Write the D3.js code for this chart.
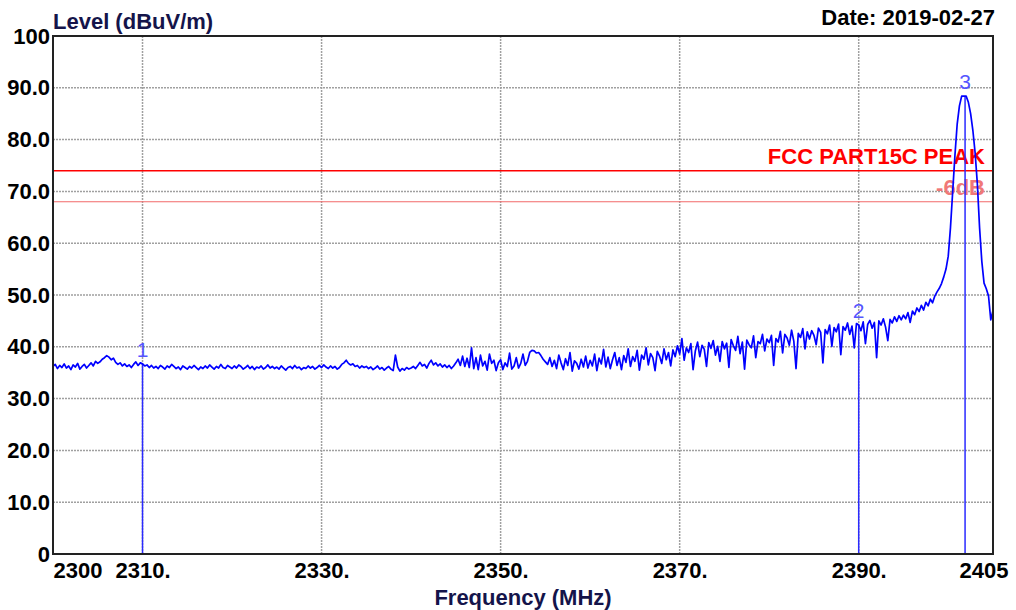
<!DOCTYPE html>
<html>
<head>
<meta charset="utf-8">
<script src="https://cdn.jsdelivr.net/npm/d3@7"></script>
<style>
    body { margin: 0; background: #fff; }
    svg text { font-family: "Liberation Sans", Arial, sans-serif; }
</style>
</head>
<body>
<div id="chart"></div>
<script>
// sweep: 2300 - 2405 MHz, 0.25 MHz per point
const freqStart = 2300;
const freqStep = 0.25;
const levels = [
    36.2, 36.6, 35.8, 36.4, 36.0, 36.7, 35.9, 36.3, 35.6, 36.5, 36.1, 36.8, 35.7, 36.2, 36.6, 35.9, 36.4, 36.9, 36.3, 37.2,
    36.8, 37.1, 37.6, 37.9, 38.3, 38.0, 37.5, 37.8, 37.0, 36.6, 36.9, 36.3, 36.7, 36.2, 36.5, 36.0, 36.6, 37.1, 36.4, 36.9,
    36.7, 36.3, 36.5, 36.0, 36.4, 35.9, 36.2, 35.8, 36.4, 36.1, 35.7, 36.3, 36.0, 36.6, 36.2, 35.8, 36.1, 35.6, 36.3, 36.0,
    35.7, 36.2, 35.9, 36.4, 36.0, 35.6, 36.1, 35.8, 36.3, 35.9, 36.5, 36.1, 35.7, 36.2, 35.9, 36.6, 36.0, 35.8, 36.4, 36.1,
    35.8, 36.3, 35.9, 36.5, 36.2, 35.7, 36.0, 36.4, 35.8, 36.2, 35.6, 36.1, 35.9, 36.3, 35.7, 36.0, 36.5, 35.9, 36.2, 35.8,
    36.1, 35.7, 36.3, 35.9, 35.5, 36.0, 36.2, 35.8, 36.4, 35.9, 36.1, 35.6, 36.0, 35.8, 36.3, 35.9, 36.2, 35.7, 36.0, 36.4,
    36.0, 36.5, 36.1, 35.8, 36.3, 35.9, 36.2, 35.7, 36.0, 36.6, 36.9, 37.4, 36.8, 36.5, 36.7, 36.2, 36.4, 35.9, 36.3, 36.0,
    36.2, 35.8, 36.1, 35.6, 35.9, 36.3, 35.7, 36.0, 35.5, 35.9, 36.2, 35.7, 35.4, 38.4, 36.1, 35.3, 35.8, 35.5, 36.0, 35.7,
    35.9, 36.2, 35.8, 36.4, 37.0, 36.3, 36.6, 35.9, 36.8, 37.4, 36.5, 36.9, 36.3, 36.7, 36.1, 36.5, 36.0, 36.4, 35.8, 36.3,
    36.9, 37.6, 36.4, 38.2, 36.2, 37.8, 36.0, 39.8, 35.8, 37.9, 35.6, 38.4, 36.3, 37.2, 35.5, 38.6, 36.8, 37.4, 35.4, 36.9,
    37.5, 35.6, 36.9, 36.2, 38.8, 35.7, 36.3, 37.9, 35.9, 36.8, 38.6, 36.4, 37.2, 38.9, 39.3, 39.2, 38.8, 38.9, 38.3, 37.6,
    37.1, 36.6, 37.9, 36.2, 37.4, 35.8, 38.4, 36.9, 35.6, 37.7, 36.4, 38.9, 35.3, 37.3, 36.8, 35.7, 37.6, 36.1, 38.2, 35.9,
    37.4, 36.3, 38.6, 35.4, 37.8, 36.7, 39.5, 36.1, 38.0, 35.8, 37.5, 38.9, 36.4, 37.9, 35.6, 38.3, 37.0, 39.6, 36.2, 38.1,
    37.2, 39.3, 35.5, 38.4, 37.6, 39.8, 36.5, 38.7, 37.9, 35.4, 39.1, 38.2, 36.8, 39.6, 37.5, 38.9, 36.3, 39.4, 38.1, 40.2,
    38.6, 41.6, 37.4, 39.8, 38.9, 40.6, 35.6, 39.2, 40.9, 38.1, 40.3, 39.5, 36.2, 40.8, 39.7, 41.2, 38.4, 40.1, 37.2, 41.0,
    39.6, 40.7, 36.0, 41.4, 40.2, 39.3, 42.0, 38.7, 40.9, 35.7, 41.3, 40.4, 39.8, 42.1, 37.9, 41.0, 40.6, 42.4, 39.2, 41.5,
    40.8, 42.2, 36.4, 41.6, 40.9, 43.0, 38.8, 42.4, 41.7, 40.3, 43.2, 41.1, 35.8, 42.6, 41.8, 43.5, 39.6, 42.9, 41.5, 43.1,
    42.2, 40.4, 43.6, 42.8, 36.9, 43.3, 42.5, 44.2, 40.1, 43.7, 42.9, 44.4, 38.5, 43.9, 43.2, 44.6, 42.4, 44.0, 39.8, 44.5,
    44.2, 43.1, 44.8, 40.6, 44.3, 45.1, 43.6, 44.7, 37.9, 45.0, 44.2, 45.4, 43.8, 41.2, 45.3, 44.6, 45.8, 44.9, 46.0, 45.2,
    46.1, 45.4, 46.6, 44.7, 46.9, 46.2, 47.5, 46.8, 48.0, 47.1, 48.6, 47.9, 49.2, 48.5, 49.8, 50.6, 51.3, 52.2, 53.5, 55.0,
    57.5, 63.0, 70.0, 77.0, 83.0, 86.5, 88.4, 88.4, 88.4, 87.2, 85.0, 81.8, 77.5, 71.5, 63.0, 56.5, 52.3, 51.2, 49.8, 45.2,
    47.0
];

// limit lines
const limitLevel = 74;
const limitLabel = "FCC PART15C PEAK";
const marginLevel = 68;
const marginLabel = "-6dB";

// markers
const markerNames = ["1", "2", "3"];
const markerFreqs = [2310, 2390, 2401.88];
const markerLevels = [36.7, 44.2, 88.4];

// axes
const xTickValues = [2300, 2310, 2330, 2350, 2370, 2390, 2405];
const xTickLabels = ["2300", "2310.", "2330.", "2350.", "2370.", "2390.", "2405"];
const xGridValues = [2310, 2330, 2350, 2370, 2390];
const yTickValues = [0, 10, 20, 30, 40, 50, 60, 70, 80, 90, 100];
const yTickLabels = ["0", "10.0", "20.0", "30.0", "40.0", "50.0", "60.0", "70.0", "80.0", "90.0", "100"];

class SpectrumChart {
    constructor(_parentElement) {
        this.parentElement = _parentElement;
        this.data = levels.map((v, i) => ({ freq: freqStart + i * freqStep, level: v }));
        this.initVis();
    }

    initVis() {
        const vis = this;

        vis.margin = { top: 36, right: 23, bottom: 56, left: 53 };
        vis.width = 1016 - vis.margin.left - vis.margin.right;
        vis.height = 610 - vis.margin.top - vis.margin.bottom;

        vis.svg = d3.select(vis.parentElement).append("svg")
            .attr("width", 1016)
            .attr("height", 610)
            .append("g")
            .attr("transform", `translate(${vis.margin.left}, ${vis.margin.top})`);

        vis.x = d3.scaleLinear()
            .domain([2300, 2405])
            .range([0, vis.width]);

        vis.y = d3.scaleLinear()
            .domain([0, 100])
            .range([vis.height, 0]);

        vis.updateVis();
    }

    updateVis() {
        const vis = this;

        // grid
        vis.svg.append("g").selectAll("line.vgrid")
            .data(xGridValues)
            .enter().append("line")
            .attr("x1", d => vis.x(d)).attr("x2", d => vis.x(d))
            .attr("y1", 0).attr("y2", vis.height)
            .attr("stroke", "#a0a0a0")
            .attr("stroke-width", 1.5)
            .attr("stroke-dasharray", "2,1");

        vis.svg.append("g").selectAll("line.hgrid")
            .data(yTickValues.slice(1, -1))
            .enter().append("line")
            .attr("x1", 0).attr("x2", vis.width)
            .attr("y1", d => vis.y(d)).attr("y2", d => vis.y(d))
            .attr("stroke", "#a0a0a0")
            .attr("stroke-width", 1.5)
            .attr("stroke-dasharray", "2,1");

        // limit lines
        vis.svg.append("line")
            .attr("x1", 0).attr("x2", vis.width)
            .attr("y1", vis.y(limitLevel)).attr("y2", vis.y(limitLevel))
            .attr("stroke", "#ff0000")
            .attr("stroke-width", 1.5);

        vis.svg.append("line")
            .attr("x1", 0).attr("x2", vis.width)
            .attr("y1", vis.y(marginLevel)).attr("y2", vis.y(marginLevel))
            .attr("stroke", "#f26a6a")
            .attr("stroke-width", 1.2);

        vis.svg.append("text")
            .attr("x", vis.width - 8)
            .attr("y", vis.y(limitLevel) - 7)
            .attr("text-anchor", "end")
            .attr("font-size", 22)
            .attr("font-weight", "bold")
            .attr("fill", "#ff0000")
            .text(limitLabel);

        vis.svg.append("text")
            .attr("x", vis.width - 8)
            .attr("y", vis.y(marginLevel) - 7)
            .attr("text-anchor", "end")
            .attr("font-size", 22)
            .attr("font-weight", "bold")
            .attr("fill", "#f07878")
            .text(marginLabel);

        // markers
        const markers = markerNames.map((m, i) => ({ name: m, freq: markerFreqs[i], level: markerLevels[i] }));

        vis.svg.selectAll(".marker-line")
            .data(markers)
            .enter().append("line")
            .attr("class", "marker-line")
            .attr("x1", d => vis.x(d.freq)).attr("x2", d => vis.x(d.freq))
            .attr("y1", vis.height).attr("y2", d => vis.y(d.level))
            .attr("stroke", "#2a2aff")
            .attr("stroke-width", 1.5);

        vis.svg.selectAll(".marker-label")
            .data(markers)
            .enter().append("text")
            .attr("class", "marker-label")
            .attr("x", d => vis.x(d.freq))
            .attr("y", d => vis.y(d.level) - 7)
            .attr("text-anchor", "middle")
            .attr("font-size", 21)
            .attr("fill", "#5555ff")
            .text(d => d.name);

        // trace
        const line = d3.line()
            .x(d => vis.x(d.freq))
            .y(d => vis.y(d.level));

        vis.svg.append("path")
            .datum(vis.data)
            .attr("fill", "none")
            .attr("stroke", "#0000ff")
            .attr("stroke-width", 1.7)
            .attr("stroke-linejoin", "round")
            .attr("d", line);

        // frame
        vis.svg.append("rect")
            .attr("width", vis.width)
            .attr("height", vis.height)
            .attr("fill", "none")
            .attr("stroke", "#222")
            .attr("stroke-width", 2);

        // axes
        vis.xAxis = d3.axisBottom(vis.x)
            .tickValues(xTickValues)
            .tickFormat((d, i) => xTickLabels[i])
            .tickSize(0)
            .tickPadding(8);

        vis.yAxis = d3.axisLeft(vis.y)
            .tickValues(yTickValues)
            .tickFormat((d, i) => yTickLabels[i])
            .tickSize(0)
            .tickPadding(3);

        const gx = vis.svg.append("g")
            .attr("class", "x axis")
            .attr("transform", `translate(0,${vis.height})`)
            .call(vis.xAxis);
        gx.select(".domain").remove();
        gx.selectAll("text")
            .attr("font-size", 22)
            .attr("font-weight", "bold")
            .attr("fill", "#000")
            .attr("font-family", "Liberation Sans, Arial, sans-serif");
        gx.selectAll(".tick").filter(d => d === 2300).select("text").attr("text-anchor", "start");
        gx.selectAll(".tick").filter(d => d === 2405).select("text").attr("text-anchor", "end").attr("dx", 15);

        const gy = vis.svg.append("g")
            .attr("class", "y axis")
            .call(vis.yAxis);
        gy.select(".domain").remove();
        gy.selectAll("text")
            .attr("font-size", 22)
            .attr("font-weight", "bold")
            .attr("fill", "#000")
            .attr("font-family", "Liberation Sans, Arial, sans-serif");

        // titles
        vis.svg.append("text")
            .attr("x", 0)
            .attr("y", -7)
            .attr("font-size", 22)
            .attr("font-weight", "bold")
            .attr("fill", "#14144a")
            .text("Level (dBuV/m)");

        vis.svg.append("text")
            .attr("x", vis.width + 2)
            .attr("y", -11)
            .attr("text-anchor", "end")
            .attr("font-size", 22)
            .attr("font-weight", "bold")
            .attr("fill", "#000")
            .text("Date: 2019-02-27");

        vis.svg.append("text")
            .attr("x", vis.width / 2)
            .attr("y", vis.height + 51)
            .attr("text-anchor", "middle")
            .attr("font-size", 22)
            .attr("font-weight", "bold")
            .attr("fill", "#14144a")
            .text("Frequency (MHz)");
    }
}

new SpectrumChart("#chart");
</script>
</body>
</html>
